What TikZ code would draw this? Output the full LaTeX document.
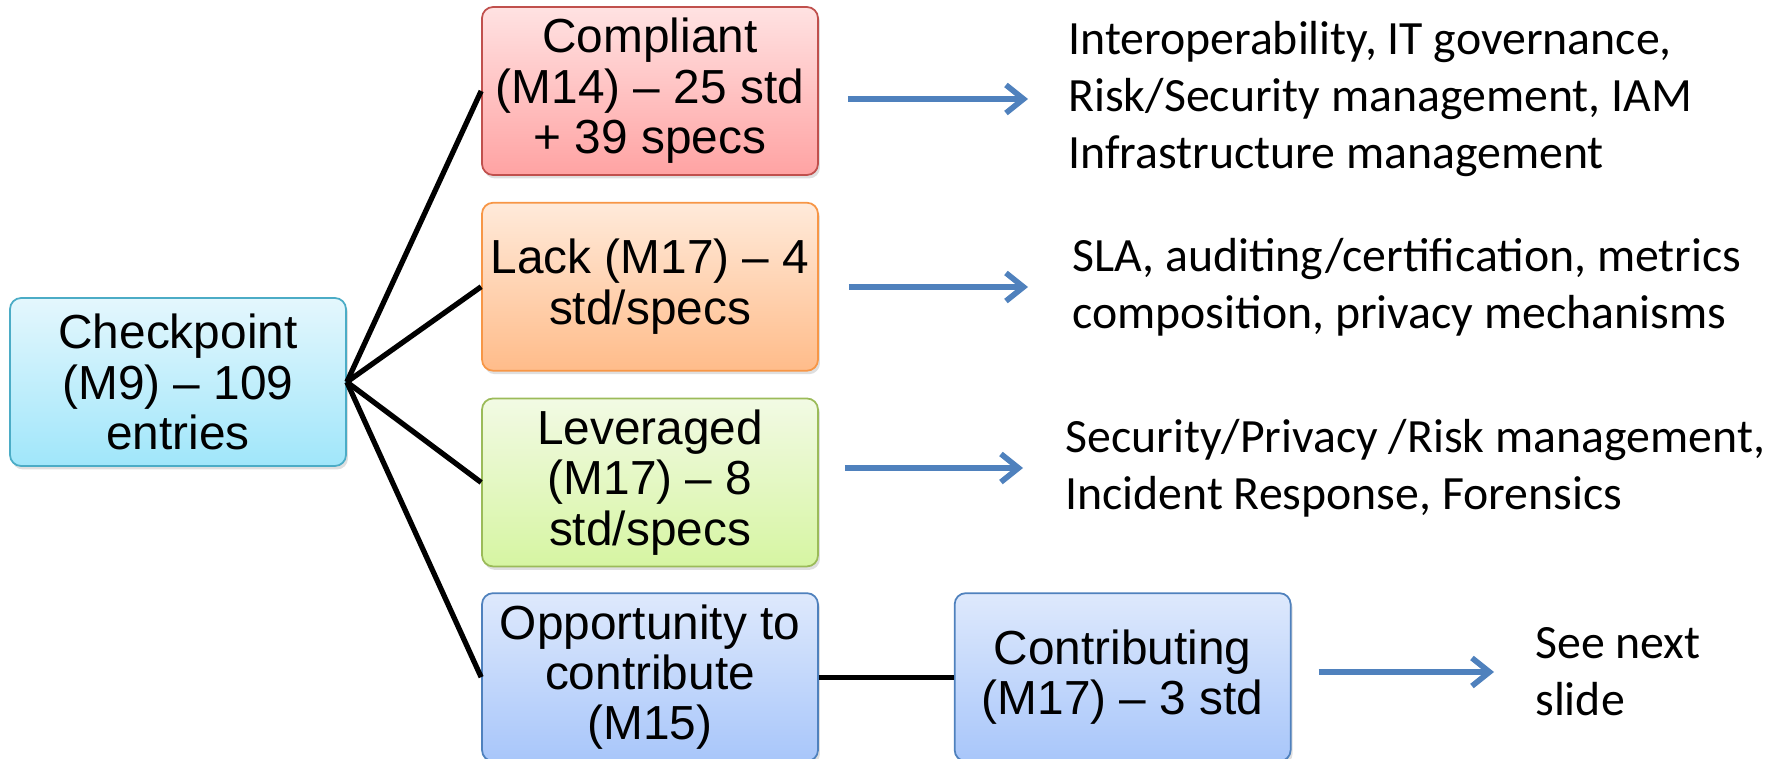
\documentclass[tikz,border=0pt]{standalone}
\usepackage{fontspec}
\setmainfont{Liberation Sans}
\newfontfamily\calibrifont{Carlito}
\usepackage{tikz}
\usepackage{xcolor}
\usetikzlibrary{positioning, arrows.meta, shadows}

\definecolor{checkLine}{RGB}{75,172,198}
\definecolor{checkTop}{RGB}{228,247,253}
\definecolor{checkBot}{RGB}{160,230,250}
\definecolor{complLine}{RGB}{192,80,77}
\definecolor{complTop}{RGB}{255,226,226}
\definecolor{complBot}{RGB}{255,163,163}
\definecolor{lackLine}{RGB}{247,150,70}
\definecolor{lackTop}{RGB}{255,234,218}
\definecolor{lackBot}{RGB}{255,188,138}
\definecolor{levLine}{RGB}{155,187,89}
\definecolor{levTop}{RGB}{242,250,228}
\definecolor{levBot}{RGB}{214,245,162}
\definecolor{oppLine}{RGB}{79,129,189}
\definecolor{oppTop}{RGB}{222,233,252}
\definecolor{oppBot}{RGB}{168,198,250}
\definecolor{arrowBlue}{RGB}{79,129,189}

\begin{document}
\begin{tikzpicture}[x=0.02cm, y=-0.02cm,
  box/.style={draw, rounded corners=0.22cm, line width=1pt, minimum width=6.72cm, minimum height=3.36cm,
    align=center, inner sep=2pt, font=\fontsize{27.2pt}{28.7pt}\selectfont,
    drop shadow={shadow xshift=0.04cm, shadow yshift=-0.07cm, opacity=0.25}},
  note/.style={anchor=west, align=left, inner sep=0pt, font=\calibrifont\fontsize{27.2pt}{32.6pt}\selectfont},
  branch/.style={line width=3pt},
  flow/.style={arrowBlue, line width=3.2pt, -{Straight Barb[length=10pt, width=16pt]}}]
   \useasboundingbox (0,0) rectangle (1782,758); % page size
   % boxes
   \node[box, draw=checkLine, top color=checkTop, bottom color=checkBot] (check) at (178,382) {Checkpoint\\(M9) -- 109\\entries};
   \node[box, draw=complLine, top color=complTop, bottom color=complBot] (compl) at (650,91) {Compliant\\(M14) -- 25 std\\+ 39 specs};
   \node[box, draw=lackLine, top color=lackTop, bottom color=lackBot, below=0.52cm of compl] (lack) {Lack (M17) -- 4\\std/specs};
   \node[box, draw=levLine, top color=levTop, bottom color=levBot, below=0.52cm of lack] (lev) {Leveraged\\(M17) -- 8\\std/specs};
   \node[box, draw=oppLine, top color=oppTop, bottom color=oppBot, below=0.5cm of lev] (opp) {Opportunity to\\contribute\\(M15)};
   \node[box, draw=oppLine, top color=oppTop, bottom color=oppBot, right=2.7cm of opp] (contrib) {Contributing\\(M17) -- 3 std};
   % black links
   \foreach \B in {compl,lack,lev,opp}
   {\draw[branch] (check.east) -- (\B.west);}
   \draw[branch] (opp.east) -- (contrib.west);
   % notes on the right
   \node[note] (interop) at (1068,99) {Interoperability, IT governance,\\Risk/Security management, IAM\\Infrastructure management};
   \node[note] (sla) at (1072,287) {SLA, auditing/certification, metrics\\composition, privacy mechanisms};
   \node[note] (secpriv) at (1065,468) {Security/Privacy /Risk management,\\Incident Response, Forensics};
   \node[note] (nextslide) at (1535,672) {See next\\slide};
   % blue arrows
   \draw[flow] ([xshift=0.58cm]compl.east |- interop.west) -- ([xshift=-0.8cm]interop.west);
   \draw[flow] ([xshift=0.6cm]lack.east |- sla.west) -- ([xshift=-0.88cm]sla.west);
   \draw[flow] ([xshift=0.52cm]lev.east |- secpriv.west) -- ([xshift=-0.84cm]secpriv.west);
   \draw[flow] ([xshift=0.54cm]contrib.east |- nextslide.west) -- ([xshift=-0.82cm]nextslide.west);
\end{tikzpicture}
\end{document}
